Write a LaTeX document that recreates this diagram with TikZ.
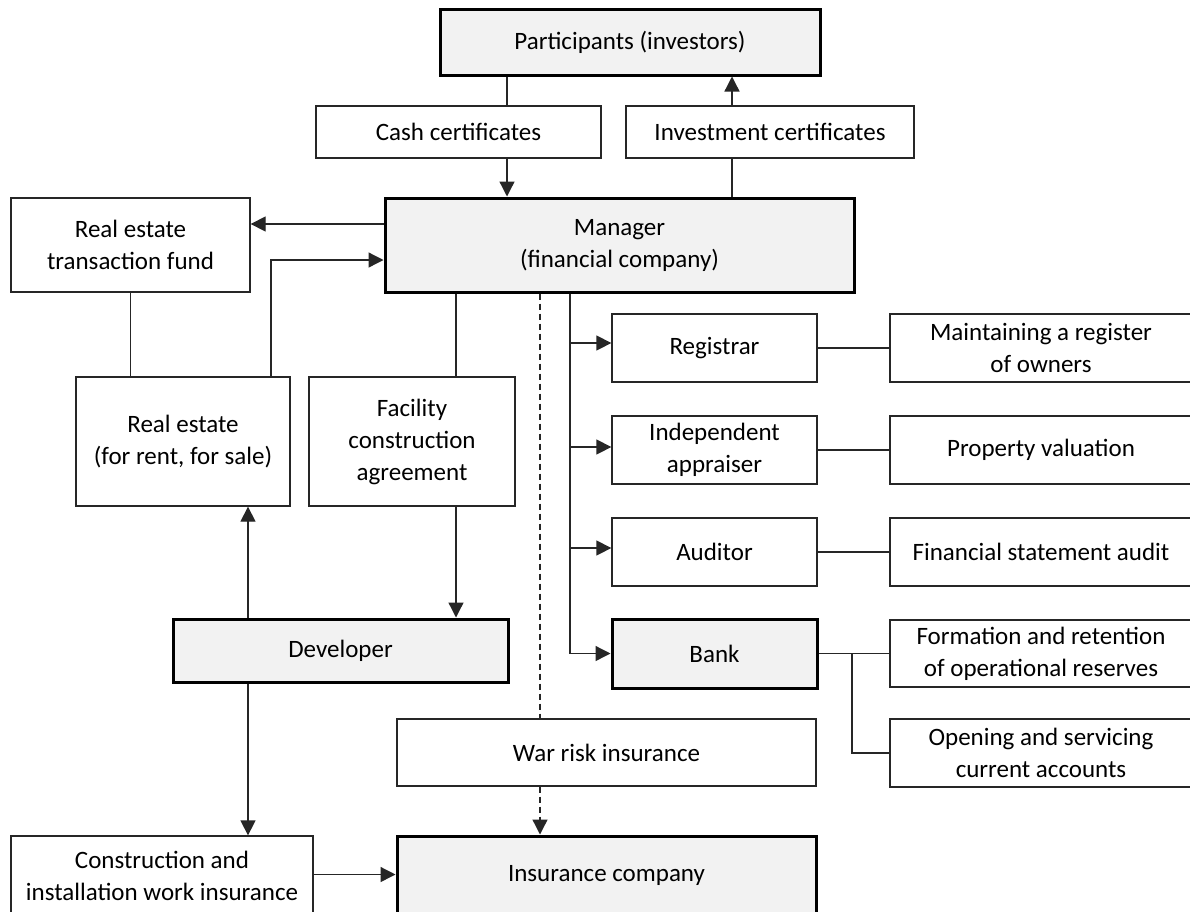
\documentclass[tikz,border=0pt]{standalone}
\usepackage{fontspec}
\setmainfont{Carlito}
\usetikzlibrary{arrows.meta,calc}
\definecolor{boxfill}{HTML}{F2F2F2}
\definecolor{linec}{HTML}{262626}
\tikzset{
  base/.style={draw=linec, rectangle, inner sep=0pt, align=center,
    font=\fontsize{25}{32}\selectfont, text=black},
  wbox/.style={base, line width=1.3pt, fill=white},
  gbox/.style={base, line width=3pt, draw=black, fill=boxfill},
  conn/.style={draw=linec, line width=1.3pt},
  arr/.style={conn, -{Triangle[length=15pt,width=15pt]}},
  dconn/.style={conn, dash pattern=on 6pt off 4pt},
  darr/.style={dconn, -{Triangle[length=15pt,width=15pt]}},
}
\begin{document}
\begin{tikzpicture}[x=1pt,y=-1pt]
\clip (0,0) rectangle (1190,911);
\fill[white] (0,0) rectangle (1190,911);

% nodes
\node[gbox, minimum width=380, minimum height=66] (part) at (630,42) {Participants (investors)};
\node[wbox, minimum width=285, minimum height=52] (cash) at (458.5,132) {Cash certificates};
\node[wbox, minimum width=288, minimum height=52] (inv) at (770,132) {Investment certificates};
\node[gbox, minimum width=469, minimum height=94] (mgr) at (619.5,245) {Manager\\(financial company)};
\node[wbox, minimum width=239, minimum height=94] (retf) at (130.5,245) {Real estate\\transaction fund};
\node[wbox, minimum width=214, minimum height=129] (re) at (183,441.5) {Real estate\\(for rent, for sale)};
\node[wbox, minimum width=206, minimum height=129] (fac) at (412,441.5) {Facility\\construction\\agreement};
\node[wbox, minimum width=205, minimum height=68] (reg) at (714.5,348) {Registrar};
\node[wbox, minimum width=302, minimum height=68] (maint) at (1041,348) {Maintaining a register\\of owners};
\node[wbox, minimum width=205, minimum height=68] (ind) at (714.5,450) {Independent\\appraiser};
\node[wbox, minimum width=302, minimum height=68] (prop) at (1041,450) {Property valuation};
\node[wbox, minimum width=205, minimum height=68] (aud) at (714.5,552) {Auditor};
\node[wbox, minimum width=302, minimum height=68] (fsa) at (1041,552) {Financial statement audit};
\node[gbox, minimum width=205, minimum height=69] (bank) at (714.5,653.5) {Bank};
\node[wbox, minimum width=302, minimum height=67] (form) at (1041,653.5) {Formation and retention\\of operational reserves};
\node[wbox, minimum width=302, minimum height=68] (open) at (1041,753) {Opening and servicing\\current accounts};
\node[gbox, minimum width=335, minimum height=63] (dev) at (340.5,650.5) {Developer};
\node[wbox, minimum width=419, minimum height=67] (war) at (606.5,752.5) {War risk insurance};
\node[wbox, minimum width=302, minimum height=79] (cons) at (162,875.5) {Construction and\\installation work insurance};
\node[gbox, minimum width=419, minimum height=79] (ins) at (606.5,875.5) {Insurance company};

% helper positions
\coordinate (xc) at (507,0);
\coordinate (xi) at (732,0);
\coordinate (xr) at (271,0);
\coordinate (xf) at (456,0);
\coordinate (xd) at (248,0);
\coordinate (xw) at (540,0);
\coordinate (xs) at (570,0);
\coordinate (xb) at (852,0);
\coordinate (ya) at (0,224);
\coordinate (yb) at (0,260);

% top
\draw[conn] (part.south -| xc) -- (cash.north -| xc);
\draw[arr] (cash.south -| xc) -- (mgr.north -| xc);
\draw[conn] (mgr.north -| xi) -- (inv.south -| xi);
\draw[arr] (inv.north -| xi) -- (part.south -| xi);

% left
\draw[arr] (mgr.west |- ya) -- (retf.east |- ya);
\draw[arr] (re.north -| xr) |- (mgr.west |- yb);
\draw[conn] (retf.south) -- (retf.south |- re.north);
\draw[conn] (mgr.south -| xf) -- (fac.north -| xf);
\draw[arr] (fac.south -| xf) -- (dev.north -| xf);
\draw[arr] (dev.north -| xd) -- (re.south -| xd);
\draw[arr] (dev.south -| xd) -- (cons.north -| xd);
\draw[arr] ([yshift=1pt]cons.east) -- ([yshift=1pt]ins.west);

% dashed
\draw[dconn] (mgr.south -| xw) -- (war.north -| xw);
\draw[darr] (war.south -| xw) -- (ins.north -| xw);

% right spine
\draw[arr] (mgr.south -| xs) |- (bank.west);
\draw[arr] ([yshift=5pt]reg.west -| xs) -- ([yshift=5pt]reg.west);
\draw[arr] ([yshift=3pt]ind.west -| xs) -- ([yshift=3pt]ind.west);
\draw[arr] ([yshift=4pt]aud.west -| xs) -- ([yshift=4pt]aud.west);

\draw[conn] (reg.east) -- (maint.west);
\draw[conn] (ind.east) -- (prop.west);
\draw[conn] (aud.east) -- (fsa.west);
\draw[conn] (bank.east) -- (form.west);
\draw[conn] (bank.east -| xb) |- (open.west);
\end{tikzpicture}
\end{document}
